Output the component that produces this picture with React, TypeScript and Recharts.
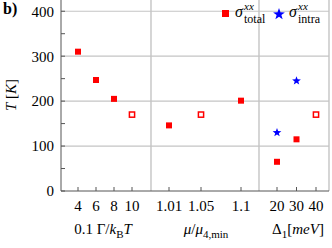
import { ScatterChart, Scatter, XAxis, YAxis, ReferenceLine, Legend } from 'recharts';

// panel 1: 0.1 Gamma / k_B T
const gammaValues = [4, 6, 8, 10];
const gammaTotal = [310, 247, 205, 170];
const gammaOpen = [false, false, false, true];

// panel 2: mu / mu_4,min
const muValues = [1.01, 1.05, 1.1];
const muTotal = [146, 170, 201];
const muOpen = [false, true, false];

// panel 3: Delta_1 [meV]
const deltaValues = [20, 30, 40];
const deltaTotal = [65, 115, 170];
const deltaOpen = [false, false, true];
const deltaIntra = [130, 245, null];

const yTicks = [0, 50, 100, 150, 200, 250, 300, 350, 400];
const yGrid = [100, 200, 300, 400];

const RED = '#ff0000';
const BLUE = '#0000ff';
const GRID = '#c4c4c4';
const FONT = 'Liberation Serif';

// each panel gets its own linear piece of the shared x axis
const posGamma = (v: number) => 17 + (v - 4) * 9;
const posMu = (v: number) => 108 + (v - 1.01) * 800;
const posDelta = (v: number) => 216 + (v - 20) * 1.95;
const panelEdges = [90, 198, 268];

const xTickList = [
  ...gammaValues.map(v => ({ pos: posGamma(v), label: String(v) })),
  ...muValues.map(v => ({ pos: posMu(v), label: String(v) })),
  ...deltaValues.map(v => ({ pos: posDelta(v), label: String(v) })),
];

const toPoints = (xs: number[], ys: (number | null)[], pos: (v: number) => number, open: boolean[] | null, wantOpen: boolean) =>
  xs
    .map((v, i) => ({ x: pos(v), y: ys[i], open: open ? open[i] : false }))
    .filter(p => p.y !== null && p.open === wantOpen);

const allTotalX = [gammaValues, muValues, deltaValues];
const allTotalY = [gammaTotal, muTotal, deltaTotal];
const allOpen = [gammaOpen, muOpen, deltaOpen];
const allPos = [posGamma, posMu, posDelta];

const filledData = allTotalX.flatMap((xs, k) => toPoints(xs, allTotalY[k], allPos[k], allOpen[k], false));
const openData = allTotalX.flatMap((xs, k) => toPoints(xs, allTotalY[k], allPos[k], allOpen[k], true));
const intraData = toPoints(deltaValues, deltaIntra, posDelta, null, false);

function starPoints(cx: number, cy: number, R: number, r: number) {
  const pts: string[] = [];
  for (let i = 0; i < 10; i++) {
    const a = (-90 + i * 36) * Math.PI / 180;
    const rad = i % 2 === 0 ? R : r;
    pts.push(`${cx + rad * Math.cos(a)},${cy + rad * Math.sin(a)}`);
  }
  return pts.join(' ');
}

const FilledSquare = (props: any) => (
  <rect x={props.cx - 3} y={props.cy - 3} width={6} height={6} fill={RED} />
);
const OpenSquare = (props: any) => (
  <rect x={props.cx - 2.6} y={props.cy - 2.6} width={5.2} height={5.2} fill="#fff" stroke={RED} strokeWidth={1.5} />
);
const Star = (props: any) => (
  <polygon points={starPoints(props.cx, props.cy, 4.6, 1.9)} fill={BLUE} />
);

const abs = (left: number, top: number, extra: React.CSSProperties = {}): React.CSSProperties => ({
  position: 'absolute', left, top, lineHeight: 1, whiteSpace: 'nowrap', ...extra,
});

// legend laid out by hand so the stacked super/subscripts sit like the LaTeX original
const LegendBox = () => (
  <div style={{ position: 'relative', width: 110, height: 26, fontFamily: FONT, color: '#000' }}>
    <svg width={8} height={8} style={abs(4, 9)}>
      <rect x={0} y={0} width={7} height={7} fill={RED} />
    </svg>
    <i style={abs(17, 3, { fontSize: 16 })}>σ</i>
    <i style={abs(26, 0, { fontSize: 11 })}>xx</i>
    <span style={abs(26, 12, { fontSize: 12 })}>total</span>
    <svg width={14} height={14} style={abs(54, 6)}>
      <polygon points={starPoints(7, 7.3, 6.2, 2.5)} fill={BLUE} />
    </svg>
    <i style={abs(71, 3, { fontSize: 16 })}>σ</i>
    <i style={abs(80, 0, { fontSize: 11 })}>xx</i>
    <span style={abs(80, 12, { fontSize: 12 })}>intra</span>
  </div>
);

const xLabel = (pos: number) => {
  const t = xTickList.find(d => Math.abs(d.pos - pos) < 0.01);
  return t ? t.label : '';
};

const sub = (s: string, size = 11, top = 4) => (
  <span style={{ fontSize: size, position: 'relative', top }}>{s}</span>
);

const titleStyle = (cx: number): React.CSSProperties => ({
  position: 'absolute',
  left: cx,
  top: 222,
  transform: 'translateX(-50%)',
  fontFamily: FONT,
  fontSize: 15,
  lineHeight: 1,
  whiteSpace: 'nowrap',
  color: '#000',
});

export default function App() {
  return (
    <div style={{ position: 'absolute', left: 0, top: 0, width: 332, height: 248, background: '#fff', fontFamily: FONT }}>
      <ScatterChart width={332} height={248} margin={{ top: 0, right: 3, bottom: 0, left: 0 }}>
        <XAxis
          type="number"
          dataKey="x"
          domain={[0, 268]}
          ticks={xTickList.map(d => d.pos)}
          interval={0}
          tickFormatter={xLabel}
          height={57}
          tickSize={-4}
          tickMargin={13}
          stroke="#555"
          tick={{ fill: '#000', fontSize: 15, fontFamily: FONT }}
        />
        <YAxis
          type="number"
          dataKey="y"
          domain={[0, 425]}
          ticks={yTicks}
          interval={0}
          tickFormatter={(v: number) => (v % 100 === 0 ? String(v) : '')}
          width={61}
          tickSize={-4}
          tickMargin={11}
          stroke="#555"
          tick={{ fill: '#000', fontSize: 15, fontFamily: FONT }}
        />
        {yGrid.map(v => (
          <ReferenceLine key={'y' + v} y={v} stroke={GRID} strokeWidth={1.2} />
        ))}
        {panelEdges.map(v => (
          <ReferenceLine key={'x' + v} x={v} stroke={GRID} strokeWidth={1.4} />
        ))}
        <Scatter data={filledData} shape={FilledSquare} isAnimationActive={false} />
        <Scatter data={openData} shape={OpenSquare} isAnimationActive={false} />
        <Scatter data={intraData} shape={Star} isAnimationActive={false} />
        <Legend
          layout="horizontal"
          verticalAlign="middle"
          align="center"
          content={() => <LegendBox />}
          wrapperStyle={{ left: 218, top: 1, width: 110 }}
        />
      </ScatterChart>

      <div style={{ position: 'absolute', left: 3, top: 1, fontSize: 16, fontWeight: 'bold', lineHeight: 1 }}>
        b)
      </div>

      <div
        style={{
          position: 'absolute',
          left: 11,
          top: 95,
          transform: 'translate(-50%, -50%) rotate(-90deg)',
          fontSize: 15,
          whiteSpace: 'nowrap',
        }}
      >
        <i>T</i> [<i>K</i>]
      </div>

      <div style={titleStyle(103)}>
        0.1 Γ/<i>k</i>{sub('B')}<i>T</i>
      </div>
      <div style={titleStyle(206)}>
        <i>μ</i>/<i>μ</i>{sub('4,min')}
      </div>
      <div style={titleStyle(298)}>
        Δ{sub('1')}[<i>meV</i>]
      </div>
    </div>
  );
}
